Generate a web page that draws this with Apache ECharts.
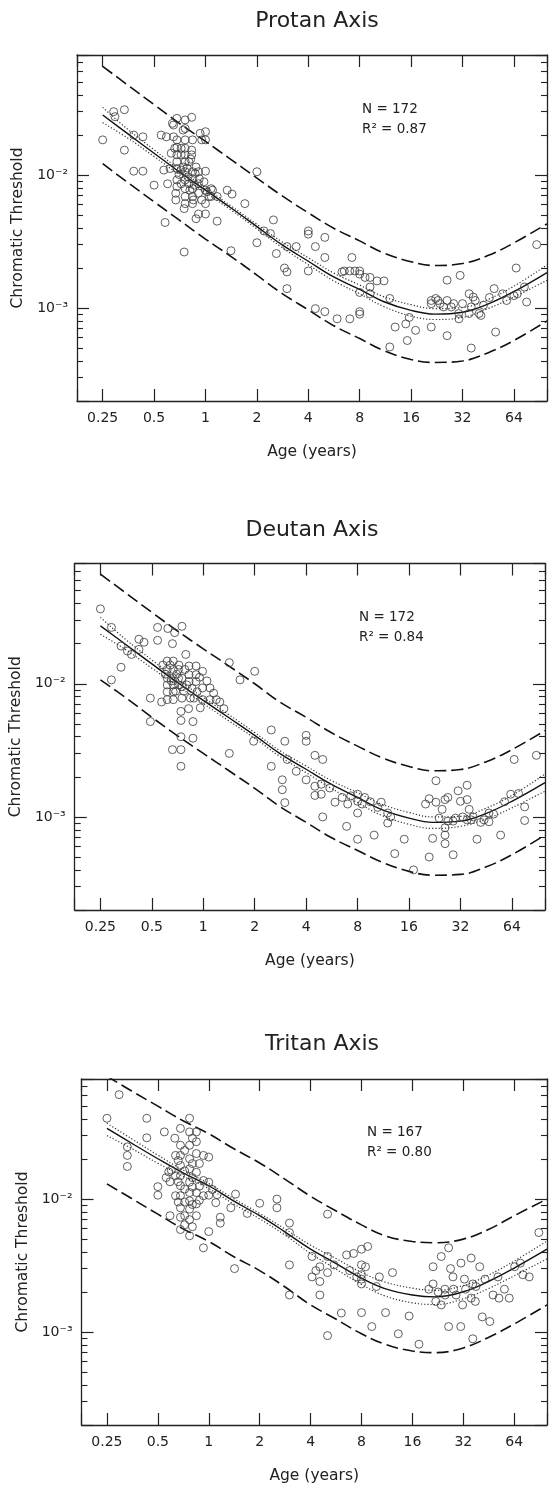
<!DOCTYPE html>
<html><head><meta charset="utf-8">
<script src="https://cdn.jsdelivr.net/npm/echarts@6/dist/echarts.min.js"></script>
<style>html,body{margin:0;padding:0;background:#fff;}#c{width:550px;height:1488px;}</style>
</head><body><div id="c"></div>
<script>
// ---------- DATA ----------
const xTickValues = [0.25, 0.5, 1, 2, 4, 8, 16, 32, 64];
const xTickLabels = ['0.25', '0.5', '1', '2', '4', '8', '16', '32', '64'];
const yMajorValues = [0.001, 0.01];
const yMajorLabels = ['10⁻³', '10⁻²'];
const panelTitles = ['Protan Axis', 'Deutan Axis', 'Tritan Axis'];
const nLabels = ['N = 172', 'N = 172', 'N = 167'];
const r2Labels = ['R² = 0.87', 'R² = 0.84', 'R² = 0.80'];

const curveAges = [0.25,0.35,0.5,0.7,1,1.4,2,2.8,4,5.6,8,11,16,22,32,45,64,100];

const protanFit   = [0.0283,0.0205,0.0146,0.0106,0.0077,0.0057,0.0041,0.0030,0.00225,0.00172,0.00138,0.00112,0.00096,0.00090,0.00093,0.00107,0.00133,0.00185];
const protanUpper = [0.0657,0.0476,0.0339,0.0246,0.0179,0.0132,0.0095,0.0070,0.0052,0.0040,0.0032,0.0026,0.00223,0.00209,0.00216,0.00248,0.00309,0.0043];
const protanLower = [0.0122,0.0088,0.0063,0.0046,0.0033,0.00246,0.00177,0.00129,0.00097,0.00074,0.00059,0.00048,0.00041,0.00039,0.0004,0.00046,0.00057,0.0008];
const protanCiHi  = [0.0323,0.0221,0.0155,0.0111,0.0080,0.0059,0.00426,0.00315,0.00239,0.00184,0.00149,0.00122,0.00106,0.00099,0.00101,0.00116,0.00146,0.00211];
const protanCiLo  = [0.0248,0.0190,0.0138,0.0101,0.0074,0.0055,0.00394,0.00286,0.00212,0.00161,0.00128,0.00103,0.00087,0.00082,0.00085,0.00099,0.00121,0.00162];

const deutanFit   = [0.0272,0.0198,0.0141,0.0103,0.0075,0.0056,0.0041,0.0030,0.00228,0.00176,0.00140,0.00114,0.00098,0.00091,0.00093,0.00106,0.00131,0.00181];
const deutanUpper = [0.0665,0.0483,0.0344,0.0251,0.0183,0.0137,0.0100,0.0073,0.0056,0.0043,0.0034,0.0028,0.00239,0.00222,0.00227,0.00259,0.0032,0.00445];
const deutanLower = [0.0107,0.0079,0.0056,0.0041,0.0030,0.00224,0.00164,0.0012,0.00091,0.0007,0.00056,0.00046,0.00039,0.000365,0.00037,0.00042,0.00052,0.00073];
const deutanCiHi  = [0.0315,0.0216,0.0151,0.0109,0.0079,0.0059,0.0043,0.00315,0.00241,0.00188,0.00152,0.00125,0.00108,0.001,0.00101,0.00116,0.00145,0.00210];
const deutanCiLo  = [0.0235,0.0181,0.0131,0.0097,0.0071,0.0053,0.0039,0.00285,0.00215,0.00164,0.00128,0.00103,0.00088,0.00082,0.00085,0.00096,0.00117,0.00156];

const tritanFit   = [0.034,0.0263,0.0201,0.0158,0.0126,0.0097,0.0075,0.0057,0.0042,0.0033,0.00254,0.00212,0.0019,0.00184,0.00201,0.0024,0.00303,0.0042];
const tritanUpper = [0.084,0.065,0.050,0.039,0.031,0.024,0.0187,0.0142,0.0105,0.0082,0.0064,0.0053,0.0048,0.0047,0.0050,0.0059,0.0075,0.0100];
const tritanLower = [0.013,0.0101,0.0077,0.006,0.0048,0.0037,0.0029,0.0022,0.0016,0.00126,0.00097,0.00081,0.00072,0.0007,0.00076,0.00091,0.00115,0.0016];
const tritanCiHi  = [0.0372,0.0284,0.0214,0.0166,0.0131,0.0101,0.0078,0.006,0.0045,0.0036,0.00281,0.00238,0.00214,0.00206,0.00224,0.00268,0.00342,0.00483];
const tritanCiLo  = [0.0300,0.0240,0.0186,0.0149,0.0120,0.0092,0.0071,0.0054,0.0039,0.0030,0.00228,0.00187,0.00166,0.00161,0.00178,0.00212,0.00265,0.00355];

const protanPoints = [[0.25,0.0184],[0.29,0.030],[0.295,0.0275],[0.335,0.031],[0.335,0.0154],[0.38,0.0107],[0.43,0.0107],[0.43,0.0194],[0.38,0.0200],[0.5,0.0084],[0.55,0.020],[0.58,0.0044],[0.57,0.0109],[0.64,0.0245],[0.65,0.0194],[0.63,0.0146],[0.68,0.0267],[0.68,0.0162],[0.68,0.0142],[0.67,0.0073],[0.67,0.0065],[0.72,0.0109],[0.72,0.0086],[0.74,0.0218],[0.76,0.0184],[0.76,0.0159],[0.76,0.0142],[0.75,0.0056],[0.75,0.00264],[0.76,0.0069],[0.79,0.0097],[0.81,0.0077],[0.83,0.0272],[0.83,0.0154],[0.83,0.0142],[0.85,0.0065],[0.87,0.0103],[0.88,0.0047],[0.91,0.0051],[0.93,0.0206],[0.95,0.0184],[1.0,0.0061],[1.0,0.0107],[1.02,0.0075],[1.05,0.0069],[1.0,0.0051],[1.17,0.0045],[1.1,0.0077],[1.34,0.0077],[1.43,0.0072],[1.7,0.0061],[1.41,0.0027],[2.0,0.0106],[2.0,0.0031],[2.5,0.0046],[2.9,0.0020],[3.0,0.00187],[3.0,0.00140],[3.0,0.0029],[4.0,0.0038],[4.0,0.0036],[4.0,0.0019],[4.4,0.0029],[5.0,0.0034],[5.0,0.0024],[4.4,0.00099],[5.0,0.00094],[5.9,0.00083],[6.5,0.0019],[7.0,0.00083],[7.2,0.0024],[7.5,0.0019],[8.0,0.0019],[8.0,0.0018],[8.6,0.0017],[9.2,0.0017],[10.1,0.0016],[11.1,0.0016],[8.0,0.00094],[8.0,0.00090],[12.0,0.00118],[12.9,0.00072],[12.0,0.00051],[15.2,0.00057],[17,0.00068],[21,0.00114],[21,0.00072],[23,0.00114],[26,0.00162],[26,0.00114],[26,0.00062],[27.5,0.00102],[30.5,0.00083],[31,0.00176],[35,0.00128],[36,0.0005],[37,0.00121],[41,0.00088],[49,0.00140],[50,0.00066],[58,0.00114],[64,0.00124],[66,0.0020],[76,0.00111],[87,0.0030],
  [0.59,0.0194],[0.65,0.0238],[0.68,0.0184],[0.68,0.0126],[0.68,0.0112],[0.68,0.0092],[0.68,0.0082],[0.76,0.026],[0.76,0.0224],[0.76,0.0126],[0.76,0.0106],[0.76,0.0092],[0.76,0.0079],[0.76,0.0061],[0.84,0.0184],[0.84,0.0106],[0.84,0.0094],[0.84,0.0079],[0.84,0.0069],[0.84,0.0061],[0.91,0.0106],[0.91,0.0086],[0.91,0.0073],[1.0,0.0212],[1.0,0.0184],[1.0,0.0077],[1.08,0.0079],[1.08,0.0069],[1.17,0.0069],[0.72,0.0142],[0.72,0.0159],[0.8,0.0126],[0.8,0.0086],[0.62,0.0112],[0.6,0.0086],
  [21,0.00108],[22.3,0.00118],[23.6,0.00108],[24.8,0.00102],[28.4,0.00108],[30.4,0.00091],[32,0.00108],[35,0.00091],[36,0.00102],[38,0.00114],[40,0.00091],[42.5,0.00105],[46,0.0012],[55,0.00128],[67,0.00128],[73.7,0.00144],[15.6,0.00085],[14.9,0.00076],[9.2,0.00144],[9.2,0.00128],[8,0.00131],[7,0.0019],[6.3,0.00187],[2.4,0.00363],[2.6,0.00257],[3.4,0.0029],[2.2,0.0038],
  [0.7,0.0101],[0.74,0.0115],[0.78,0.0113],[0.86,0.0084],[0.95,0.0065],[0.66,0.0159],[0.82,0.0132],[0.88,0.0115],[0.92,0.0094],[0.98,0.0089]];

const deutanPoints = [[0.25,0.0365],[0.29,0.0107],[0.29,0.0265],[0.33,0.0192],[0.33,0.0133],[0.38,0.0166],[0.42,0.0216],[0.42,0.0181],[0.49,0.0078],[0.49,0.0052],[0.54,0.0265],[0.54,0.0212],[0.57,0.0073],[0.62,0.026],[0.66,0.020],[0.68,0.0242],[0.75,0.027],[0.79,0.0166],[0.615,0.0148],[0.615,0.0128],[0.615,0.0110],[0.615,0.0098],[0.615,0.0087],[0.615,0.0076],[0.667,0.0148],[0.667,0.0128],[0.667,0.0110],[0.667,0.0098],[0.667,0.0087],[0.667,0.0076],[0.716,0.0128],[0.716,0.0110],[0.716,0.0098],[0.75,0.0110],[0.75,0.0095],[0.75,0.0078],[0.825,0.0136],[0.825,0.0117],[0.825,0.0104],[0.84,0.0078],[0.907,0.0136],[0.907,0.0117],[0.907,0.0104],[0.99,0.0124],[0.99,0.0093],[0.99,0.0076],[1.095,0.0093],[1.095,0.0076],[1.19,0.0076],[1.32,0.0065],[0.74,0.0062],[0.74,0.0053],[0.74,0.0040],[0.66,0.0032],[0.74,0.0032],[0.74,0.0024],[0.87,0.0052],[0.87,0.0039],[0.82,0.0065],[1.42,0.0144],[1.42,0.0030],[1.64,0.0107],[2.0,0.0124],[1.97,0.0037],[2.5,0.0045],[2.5,0.0024],[3.0,0.0037],[2.9,0.0019],[2.9,0.0016],[3.0,0.00128],[4.0,0.0041],[4.0,0.0037],[4.0,0.0019],[4.5,0.0029],[5.0,0.0027],[4.5,0.0017],[4.5,0.00145],[4.9,0.00176],[4.9,0.00148],[5.0,0.0010],[5.9,0.00129],[6.9,0.00085],[7.3,0.00144],[8,0.00148],[8,0.00131],[8.8,0.0014],[8,0.00107],[8,0.00068],[10,0.00073],[11,0.00129],[12,0.00107],[12,0.0009],[13.2,0.00053],[15,0.00068],[17,0.0004],[21,0.00137],[23,0.00187],[23,0.00129],[21,0.0005],[22,0.00069],[25,0.00114],[26,0.00135],[26,0.00073],[26,0.00063],[27,0.0014],[29,0.00093],[29,0.00052],[31,0.00157],[32,0.00131],[35,0.00173],[35,0.00135],[36,0.00114],[35,0.00095],[37,0.00095],[40,0.00068],[42,0.00091],[47,0.00092],[47,0.00107],[55,0.00073],[63,0.00148],[66,0.0027],[76,0.00119],[76,0.00094],[89,0.0029],
  [0.6,0.0118],[0.64,0.0138],[0.7,0.0118],[0.72,0.0138],[0.78,0.0128],[0.8,0.0098],[0.86,0.0092],[0.92,0.0087],[0.95,0.0112],[1.05,0.0105],[0.58,0.0138],[0.65,0.0105],[0.69,0.0088],[0.77,0.0088],[0.88,0.0078],[0.96,0.0066],[1.15,0.0085],[1.25,0.0073],[0.36,0.0176],[0.45,0.0205],
  [3.1,0.0027],[3.5,0.0022],[5.5,0.00165],[6.5,0.0014],[7,0.00125],[8.5,0.00125],[9.5,0.0013],[10.5,0.00118],[12.5,0.001],[20,0.00125],[24,0.00098],[27,0.00093],[30,0.00098],[33,0.001],[38,0.001],[44,0.00095],[50,0.00105],[58,0.0013],[70,0.0015],[26,0.00083]];

const tritanPoints = [[0.25,0.0405],[0.295,0.061],[0.33,0.0247],[0.33,0.0213],[0.33,0.0176],[0.43,0.0405],[0.43,0.0289],[0.5,0.0124],[0.5,0.0107],[0.546,0.032],[0.58,0.016],[0.59,0.0135],[0.59,0.0075],[0.77,0.0405],[0.63,0.0287],[0.68,0.034],[0.68,0.0254],[0.68,0.0213],[0.68,0.0179],[0.68,0.015],[0.68,0.0126],[0.68,0.0106],[0.68,0.0086],[0.68,0.0073],[0.68,0.0059],[0.636,0.0213],[0.636,0.0106],[0.636,0.015],[0.77,0.032],[0.77,0.0254],[0.77,0.0201],[0.77,0.0169],[0.77,0.0134],[0.77,0.0112],[0.77,0.0097],[0.77,0.0084],[0.77,0.007],[0.77,0.0053],[0.845,0.032],[0.845,0.027],[0.845,0.022],[0.845,0.0159],[0.845,0.0112],[0.845,0.0092],[0.845,0.0075],[0.93,0.0213],[1.0,0.0207],[0.93,0.0138],[1.0,0.0134],[0.93,0.0106],[1.0,0.0107],[1.1,0.0094],[0.93,0.0043],[1.0,0.0057],[1.17,0.0073],[1.17,0.0066],[1.35,0.0086],[1.44,0.0109],[1.42,0.003],[1.69,0.0078],[2.0,0.0093],[2.53,0.01],[2.53,0.0086],[3.0,0.0066],[3.0,0.0056],[3.0,0.0032],[3.0,0.0019],[4.08,0.0037],[4.08,0.0026],[4.54,0.0031],[4.54,0.0024],[4.54,0.0019],[5.04,0.0077],[5.04,0.0037],[5.04,0.0028],[5.04,0.00094],[6.08,0.00139],[6.53,0.0038],[7.18,0.0039],[8,0.0042],[8.7,0.0044],[8,0.0032],[8.45,0.0031],[8,0.0027],[8,0.0025],[8,0.0023],[8,0.0014],[9.2,0.0011],[10.2,0.0026],[11.1,0.0014],[12.2,0.0028],[13.2,0.00097],[15.3,0.00132],[17.5,0.00081],[21.2,0.0031],[21.2,0.0023],[23.7,0.0037],[23.7,0.0016],[22.7,0.002],[24.9,0.0021],[26.2,0.0043],[26.9,0.003],[27.8,0.0026],[26.2,0.0011],[30.9,0.0011],[31,0.0033],[32.5,0.0025],[31.7,0.0016],[35.6,0.0036],[35.6,0.0018],[36.4,0.0023],[37.7,0.0017],[36.4,0.00089],[40,0.0031],[41.4,0.0013],[45.9,0.0012],[51.3,0.0026],[52,0.0018],[59.8,0.0018],[64.4,0.0031],[69.6,0.0033],[78.5,0.0026],[89.5,0.0056],
  [0.72,0.0232],[0.72,0.0163],[0.72,0.0119],[0.72,0.0095],[0.72,0.0075],[0.72,0.0064],[0.8,0.0287],[0.8,0.0185],[0.8,0.0145],[0.8,0.0123],[0.8,0.0091],[0.8,0.0062],[0.88,0.0185],[0.88,0.0125],[0.88,0.0098],[0.66,0.0195],[0.66,0.0135],[0.66,0.0095],[0.6,0.0165],[0.56,0.0145],[1.05,0.0118],[1.12,0.0108],
  [4.3,0.0029],[5.5,0.0032],[6.8,0.0029],[7.5,0.0026],[9.8,0.0022],[20,0.0021],[22,0.0017],[25,0.0019],[28,0.0021],[29,0.0019],[33,0.0021],[38,0.0022],[43,0.0025],[48,0.0019],[56,0.0021],[72,0.0027]];

// ---------- LAYOUT ----------
const FONT = 'DejaVu Sans';
const INK = '#222';
const X_MIN = 0.1768, X_MAX = 100, Y_MIN = 0.0002, Y_MAX = 0.08;
const panels = [
  { grid: {left: 77, top: 55, width: 471, height: 346}, title: [317, 21], note: [362, 109],
    fit: protanFit, up: protanUpper, lo: protanLower, ciHi: protanCiHi, ciLo: protanCiLo, pts: protanPoints },
  { grid: {left: 74, top: 563.5, width: 471, height: 346.5}, title: [312, 530], note: [359, 617],
    fit: deutanFit, up: deutanUpper, lo: deutanLower, ciHi: deutanCiHi, ciLo: deutanCiLo, pts: deutanPoints },
  { grid: {left: 81.5, top: 1079, width: 471, height: 346}, title: [322, 1044], note: [367, 1132],
    fit: tritanFit, up: tritanUpper, lo: tritanLower, ciHi: tritanCiHi, ciLo: tritanCiLo, pts: tritanPoints }
];

const axisLineStyle = {color: INK, width: 1.3};
const tickStyle = {color: INK, width: 1.2};
const option = {
  animation: false,
  backgroundColor: '#fff',
  grid: [], xAxis: [], yAxis: [], series: [], graphic: []
};

const xFmt = v => { const i = xTickValues.findIndex(t => Math.abs(t - v) / t < 1e-6); return i >= 0 ? xTickLabels[i] : ''; };
const yFmt = v => { const i = yMajorValues.findIndex(t => Math.abs(t - v) / t < 1e-6); return i >= 0 ? yMajorLabels[i] : ''; };

panels.forEach((p, k) => {
  option.grid.push(Object.assign({show: false}, p.grid));
  const xi = option.xAxis.length, yi = option.yAxis.length;
  option.xAxis.push({
    gridIndex: k, type: 'log', logBase: 2, min: X_MIN, max: X_MAX, position: 'bottom',
    axisLine: {show: true, lineStyle: axisLineStyle},
    axisTick: {show: true, inside: true, length: 12, lineStyle: tickStyle},
    axisLabel: {show: true, margin: 10, fontSize: 14, fontFamily: FONT, color: INK, formatter: xFmt},
    splitLine: {show: false}, minorTick: {show: false},
    name: 'Age (years)', nameLocation: 'middle', nameGap: 43,
    nameTextStyle: {fontSize: 15.5, fontFamily: FONT, color: INK}
  });
  option.xAxis.push({
    gridIndex: k, type: 'log', logBase: 2, min: X_MIN, max: X_MAX, position: 'top',
    axisLine: {show: true, lineStyle: axisLineStyle},
    axisTick: {show: true, inside: true, length: 12, lineStyle: tickStyle},
    axisLabel: {show: false}, splitLine: {show: false}, minorTick: {show: false}
  });
  const yBase = {
    gridIndex: k, type: 'log', logBase: 10, min: Y_MIN, max: Y_MAX, splitLine: {show: false},
    axisLine: {show: true, lineStyle: axisLineStyle},
    axisTick: {show: true, inside: true, length: 12, lineStyle: tickStyle},
    minorTick: {show: true, splitNumber: 9, length: 6, lineStyle: {color: INK, width: 1.1}},
    minorSplitLine: {show: false}
  };
  option.yAxis.push(Object.assign({}, yBase, {
    position: 'left',
    axisLabel: {show: true, margin: 9, fontSize: 14, fontFamily: FONT, color: INK, formatter: yFmt},
    name: 'Chromatic Threshold', nameLocation: 'middle', nameGap: 44, nameRotate: 90,
    nameTextStyle: {fontSize: 15.5, fontFamily: FONT, color: INK}
  }));
  option.yAxis.push(Object.assign({}, yBase, {
    position: 'right', axisLabel: {show: false}
  }));

  const mk = arr => curveAges.map((a, i) => [a, arr[i]]);
  const line = (arr, style) => ({
    type: 'line', xAxisIndex: xi, yAxisIndex: yi, data: mk(arr), smooth: 0.4, symbol: 'none',
    clip: true, silent: true, lineStyle: style, z: 3
  });
  option.series.push(
    line(p.up, {color: '#111', width: 1.6, type: [12, 5]}),
    line(p.lo, {color: '#111', width: 1.6, type: [12, 5]}),
    line(p.ciHi, {color: '#333', width: 1.2, type: [1.2, 2]}),
    line(p.ciLo, {color: '#333', width: 1.2, type: [1.2, 2]}),
    line(p.fit, {color: '#111', width: 1.4, type: 'solid'}),
    {
      type: 'scatter', xAxisIndex: xi, yAxisIndex: yi, data: p.pts, symbol: 'circle', symbolSize: 8,
      itemStyle: {color: 'rgba(255,255,255,0)', borderColor: '#3a3a3a', borderWidth: 1}, z: 4, silent: true
    }
  );

  option.graphic.push(
    {type: 'text', x: p.title[0], y: p.title[1], style: {text: panelTitles[k], font: '22px "DejaVu Sans"', fill: INK, textAlign: 'center', textVerticalAlign: 'middle'}},
    {type: 'text', x: p.note[0], y: p.note[1], style: {text: nLabels[k], font: '13.5px "DejaVu Sans"', fill: INK, textAlign: 'left', textVerticalAlign: 'middle'}},
    {type: 'text', x: p.note[0], y: p.note[1] + 20, style: {text: r2Labels[k], font: '13.5px "DejaVu Sans"', fill: INK, textAlign: 'left', textVerticalAlign: 'middle'}}
  );
});

const chart = echarts.init(document.getElementById('c'), null, {renderer: 'canvas', width: 550, height: 1488});
chart.setOption(option);
</script>
</body></html>
